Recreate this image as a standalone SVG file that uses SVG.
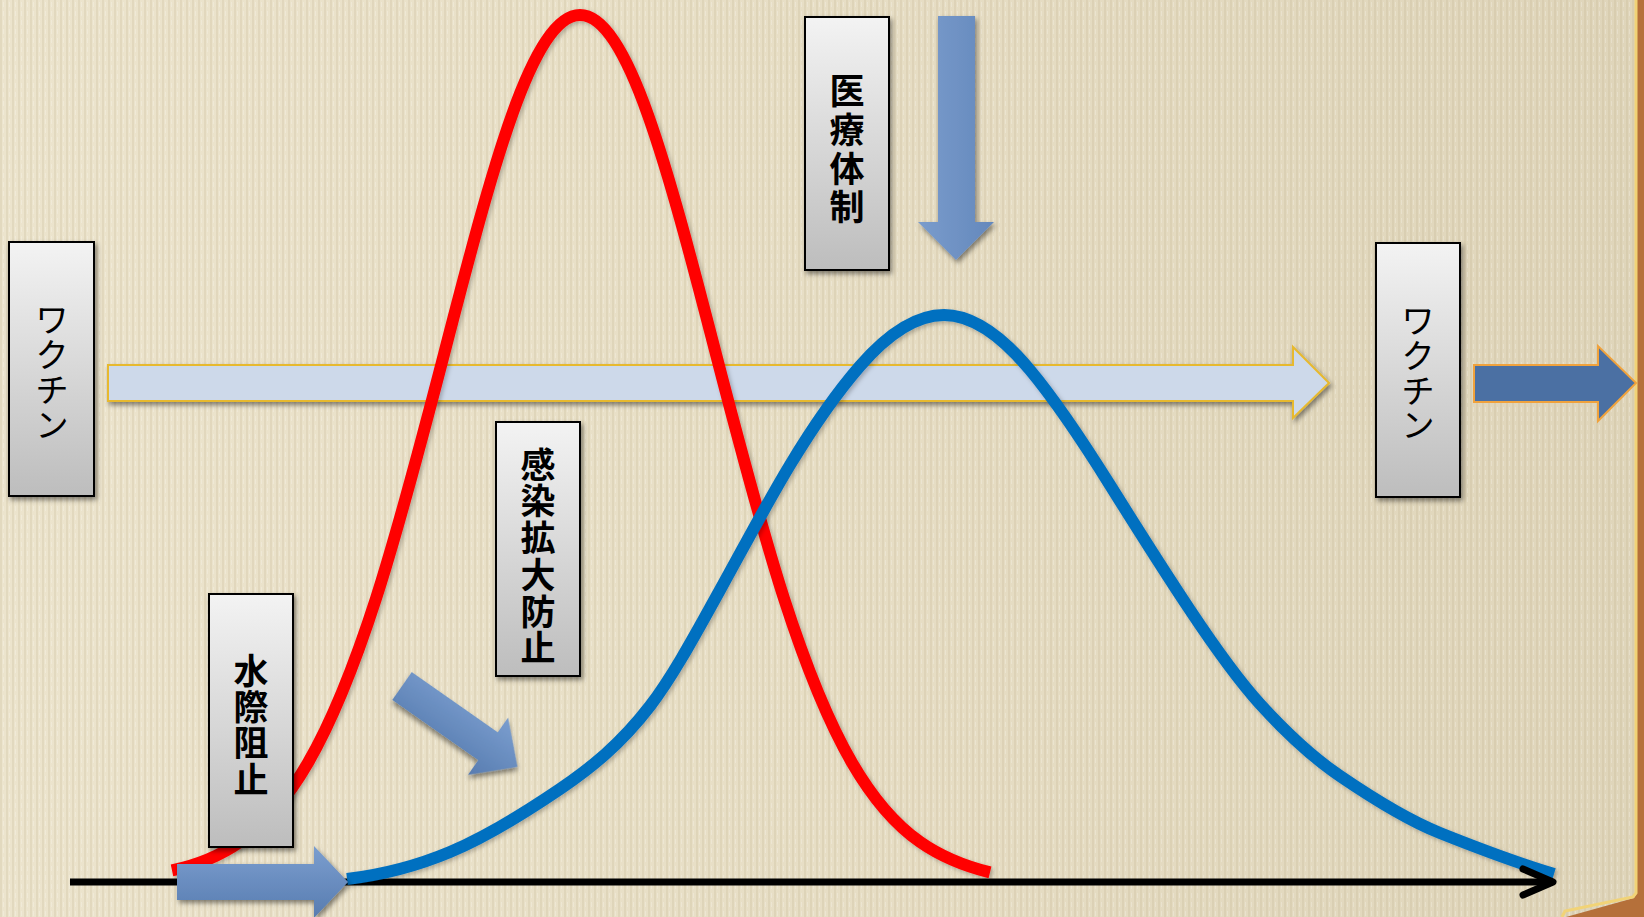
<svg xmlns="http://www.w3.org/2000/svg" width="1644" height="917" viewBox="0 0 1644 917">
  <style>
    .box { stroke: #000; stroke-width: 2; fill: url(#boxGrad); filter: url(#shadow); }
    .kanji { font-family: "Noto Sans CJK JP", "Noto Sans CJK SC", sans-serif; font-weight: bold; font-size: 35px; fill: #000; text-anchor: middle; dominant-baseline: central; }
    .kana { font-family: "Noto Sans CJK JP", "Noto Sans CJK SC", sans-serif; font-weight: normal; font-size: 33px; fill: #000; text-anchor: middle; dominant-baseline: central; }
    .curve { fill: none; stroke-width: 12; stroke-linecap: butt; filter: url(#softShadow); }
    .blueArrow { fill: url(#arrowGrad); filter: url(#shadow); }
  </style>
  <defs>
    <linearGradient id="bgGrad" x1="0" y1="0" x2="1" y2="0">
      <stop offset="0" stop-color="#ece4cd"/>
      <stop offset="0.5" stop-color="#e7dec5"/>
      <stop offset="1" stop-color="#dfd5ba"/>
    </linearGradient>
    <pattern id="texture" width="6" height="9" patternUnits="userSpaceOnUse">
      <rect x="0" y="0" width="2" height="9" fill="#b8a77f" opacity="0.18"/>
      <rect x="3" y="2" width="1" height="5" fill="#ffffff" opacity="0.22"/>
    </pattern>
    <linearGradient id="boxGrad" x1="0" y1="0" x2="0" y2="1">
      <stop offset="0" stop-color="#f3f3f3"/>
      <stop offset="1" stop-color="#bdbdbd"/>
    </linearGradient>
    <linearGradient id="arrowGrad" x1="0" y1="0" x2="0" y2="1">
      <stop offset="0" stop-color="#7b9ecf"/>
      <stop offset="1" stop-color="#587cb0"/>
    </linearGradient>
    <linearGradient id="downGrad" x1="0" y1="0" x2="1" y2="0">
      <stop offset="0" stop-color="#7a9ccc"/>
      <stop offset="1" stop-color="#6488bc"/>
    </linearGradient>
    <filter id="shadow" x="-20%" y="-20%" width="150%" height="150%">
      <feDropShadow dx="2" dy="3" stdDeviation="2.5" flood-color="#000" flood-opacity="0.45"/>
    </filter>
    <filter id="softShadow" x="-10%" y="-10%" width="120%" height="120%">
      <feDropShadow dx="2" dy="2" stdDeviation="2" flood-color="#000" flood-opacity="0.25"/>
    </filter>
  </defs>

  <!-- background -->
  <rect x="0" y="0" width="1644" height="917" fill="url(#bgGrad)"/>
  <rect x="0" y="0" width="1644" height="917" fill="url(#texture)"/>
  <polygon points="1637,0 1644,0 1644,917 1566,917 1634,898 1637,893" fill="#b5703a"/>
  <polyline points="1636,0 1636,893 1633,897 1565,911 1562,917" fill="none" stroke="#f1d377" stroke-width="3"/>

  <!-- long light arrow (vaccine) -->
  <g id="vaccine-arrow">
    <polygon points="108,365 1293,365 1293,347 1329,383 1293,418 1293,401 108,401" fill="#cdd9ea" stroke="#e7b92f" stroke-width="2" filter="url(#shadow)"/>
  </g>

  <g id="connectors">
    <!-- axis line -->
    <line x1="70" y1="882" x2="1548" y2="882" stroke="#000" stroke-width="7"/>
    <!-- red curve -->
    <path class="curve" stroke="#ff0000" d="M172,870.4 C194.7,865.6 217.3,857.8 240,841.9 C262.7,826.0 285.3,801.8 308,762.7 C330.7,723.6 353.3,668.9 376,598.5 C398.7,528.1 421.3,441.8 444,354.2 C466.7,266.6 489.3,178.7 512,114.9 C534.7,51.1 557.3,15 580,15 C602.7,15 625.3,51.1 648,114.9 C670.7,178.7 693.3,266.6 716,354.2 C738.7,441.8 761.3,528.1 784,598.5 C806.7,668.9 829.3,723.6 852,762.7 C874.7,801.8 897.3,826.0 920,841.9 C942.7,857.8 966.3,866.6 990,872.4"/>
    <!-- blue curve -->
    <path class="curve" stroke="#0070c0" d="M347,879 C381.3,874.9 415.7,866.4 450,852 C486.7,836.6 523.3,813.9 560,789 C590,768.6 620,745 650,706 C673.3,675.7 696.7,632 720,590 C743.3,548 766.7,503.5 790,465 C813.3,426.5 836.7,392.8 860,366 C888,333.8 916,315 944,315 C972.7,315 1001.3,335.6 1030,370 C1056.7,402 1083.3,442.3 1110,485 C1136.7,527.7 1163.3,570 1190,610 C1213.3,645 1236.7,678.3 1260,704 C1286.7,733.3 1313.3,757.9 1340,776 C1373.3,798.7 1406.7,819.7 1440,833 C1478,848.2 1516,862.6 1554,874"/>
    <!-- axis arrowhead -->
    <polyline points="1523,869 1553,882 1523,895" fill="none" stroke="#000" stroke-width="7" stroke-linecap="round" stroke-linejoin="round"/>
  </g>

  <!-- blue action arrows -->
  <g id="arrow-down">
    <polygon points="938,16 975,16 975,222 994,222 956,260 918,222 938,222" fill="url(#downGrad)" filter="url(#shadow)"/>
  </g>
  <g id="arrow-diagonal">
    <polygon transform="translate(402,686) rotate(35)" points="0,-17 105,-17 105,-35 141,0 105,35 105,17 0,17" class="blueArrow"/>
  </g>

  <g id="box-mizugiwa">
    <rect class="box" x="209" y="594" width="84" height="253"/>
    <text class="kanji"><tspan x="251" y="668">水</tspan><tspan x="251" y="704">際</tspan><tspan x="251" y="740">阻</tspan><tspan x="251" y="777">止</tspan></text>
  </g>

  <g id="arrow-bottom">
    <polygon points="177,864 314,864 314,846 348,882 314,918 314,900 177,900" class="blueArrow"/>
  </g>

  <g id="box-vaccine-left">
    <rect class="box" x="9" y="242" width="85" height="254"/>
    <text class="kana"><tspan x="52" y="318">ワ</tspan><tspan x="52" y="353">ク</tspan><tspan x="52" y="388">チ</tspan><tspan x="52" y="423">ン</tspan></text>
  </g>

  <g id="box-iryo">
    <rect class="box" x="805" y="17" width="84" height="253"/>
    <text class="kanji"><tspan x="847" y="88">医</tspan><tspan x="847" y="127">療</tspan><tspan x="847" y="166">体</tspan><tspan x="847" y="204">制</tspan></text>
  </g>

  <g id="box-kansen">
    <rect class="box" x="496" y="422" width="84" height="254"/>
    <text class="kanji"><tspan x="538" y="462">感</tspan><tspan x="538" y="498">染</tspan><tspan x="538" y="535">拡</tspan><tspan x="538" y="572">大</tspan><tspan x="538" y="609">防</tspan><tspan x="538" y="645">止</tspan></text>
  </g>

  <g id="box-vaccine-right">
    <rect class="box" x="1376" y="243" width="84" height="254"/>
    <text class="kana"><tspan x="1418" y="319">ワ</tspan><tspan x="1418" y="354">ク</tspan><tspan x="1418" y="389">チ</tspan><tspan x="1418" y="423">ン</tspan></text>
  </g>

  <g id="arrow-right">
    <polygon points="1474,365 1598,365 1598,346 1636,383 1598,421 1598,402 1474,402" fill="#4b70a3" stroke="#f0a23c" stroke-width="2"/>
  </g>
</svg>
